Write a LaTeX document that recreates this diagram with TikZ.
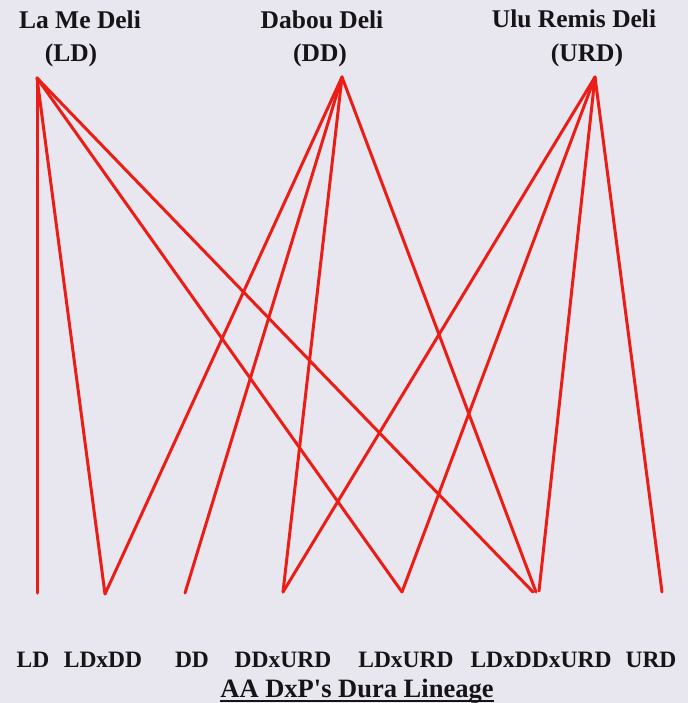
\documentclass[tikz,border=0pt]{standalone}
\usepackage{fontspec}
\setmainfont{Liberation Serif}
\newfontfamily\capfont{Liberation Serif}[Ligatures=TeXOff]
\usetikzlibrary{calc}
\definecolor{paper}{RGB}{232,230,238}
\definecolor{cross}{RGB}{234,30,22}
\definecolor{ink}{RGB}{22,20,22}
\begin{document}
\begin{tikzpicture}[x=1pt,y=-1pt,
  parent/.style={inner sep=0pt,anchor=base,text=ink,font=\bfseries\fontsize{25.5}{28}\selectfont},
  progeny/.style={inner sep=0pt,anchor=base,text=ink,font=\bfseries\fontsize{23.5}{26}\selectfont},
  caption/.style={inner sep=0pt,anchor=base,text=ink,font=\capfont\bfseries\fontsize{26.5}{28}\selectfont},
  link/.style={draw=cross,line width=3pt,line cap=round,line join=round}]
  % page background
  \fill[paper] (0,0) rectangle (688,703);
  \useasboundingbox (0,0) rectangle (688,703);

  % parental lines
  \node[parent] (nLD)  at (80,29)  {La Me Deli};
  \node[parent] (aLD)  at (71,62)  {(LD)};
  \node[parent] (nDD)  at (322,29) {Dabou Deli};
  \node[parent] (aDD)  at (320,62) {(DD)};
  \node[parent] (nURD) at (574,28) {Ulu Remis Deli};
  \node[parent] (aURD) at (587,62) {(URD)};

  % apex of each parent's fan
  \coordinate (pLD)  at (37,78);
  \coordinate (pDD)  at (342,77);
  \coordinate (pURD) at (595,77);

  % ends of the fans at the progeny row
  \coordinate (cLD)     at (37,593);
  \coordinate (cLDDD)   at (105,594);
  \coordinate (cDD)     at (185,593);
  \coordinate (cDDURD)  at (283,592);
  \coordinate (cLDURD)  at (402,592);
  \coordinate (cAllA)   at (533,592);
  \coordinate (cAllB)   at (536,592);
  \coordinate (cAllC)   at (539,591);
  \coordinate (cURD)    at (662,592);

  % La Me Deli contributions
  \draw[link] (pLD) -- (cLD);
  \draw[link] (pLD) -- (cLDDD);
  \draw[link] (pLD) -- (cLDURD);
  \draw[link] (pLD) -- (cAllA);
  % Dabou Deli contributions
  \draw[link] (pDD) -- (cLDDD);
  \draw[link] (pDD) -- (cDD);
  \draw[link] (pDD) -- (cDDURD);
  \draw[link] (pDD) -- (cAllB);
  % Ulu Remis Deli contributions
  \draw[link] (pURD) -- (cDDURD);
  \draw[link] (pURD) -- (cLDURD);
  \draw[link] (pURD) -- (cAllC);
  \draw[link] (pURD) -- (cURD);

  % progeny labels
  \node[progeny] (lLD)    at (33,667)  {LD};
  \node[progeny] (lLDDD)  at (103,667) {LDxDD};
  \node[progeny] (lDD)    at (192,667) {DD};
  \node[progeny] (lDDURD) at (283,667) {DDxURD};
  \node[progeny] (lLDURD) at (406,667) {LDxURD};
  \node[progeny] (lAll)   at (541,667) {LDxDDxURD};
  \node[progeny] (lURD)   at (651,667) {URD};

  % caption with underline
  \node[caption] (title) at (357,697) {AA DxP's Dura Lineage};
  \draw[ink,line width=1.8pt] ($(title.base west)+(0,4)$) -- ($(title.base east)+(0,4)$);
\end{tikzpicture}
\end{document}
